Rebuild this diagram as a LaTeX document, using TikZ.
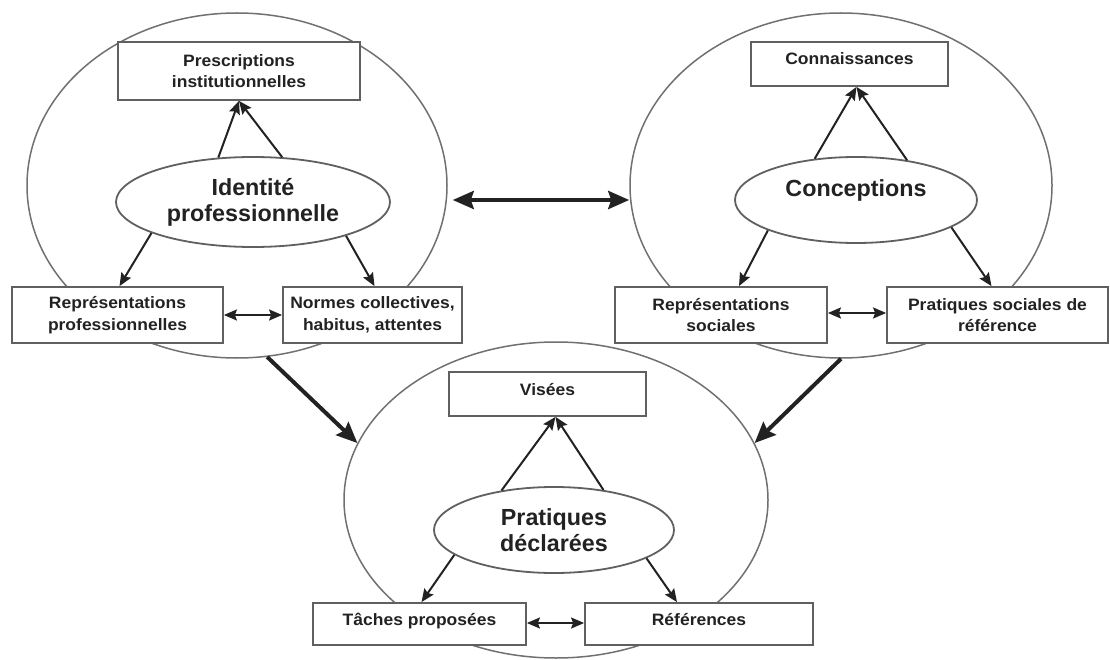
\documentclass[tikz,border=0pt]{standalone}
\usepackage{fontspec}
\setmainfont{Liberation Sans}
\newfontfamily\boxfont{Liberation Sans}[FakeStretch=1.06]
\usetikzlibrary{shapes.geometric,arrows.meta,calc}
\definecolor{ink}{HTML}{222222}
\definecolor{edgec}{HTML}{606060}
\definecolor{ring}{HTML}{707070}
\tikzset{
  bigring/.style={ellipse, draw=ring, line width=1.5pt, inner sep=0pt},
  boxn/.style={draw=edgec, line width=1.8pt, fill=white, inner sep=0pt, align=center,
     font=\boxfont\bfseries\fontsize{16.5}{21.5}\selectfont, text=ink},
  upper/.style={text height=12pt, text depth=10pt},
  innerell/.style={ellipse, draw=edgec, line width=1.8pt, fill=white, inner sep=0pt, align=center,
     font=\bfseries\fontsize{23.3}{26}\selectfont, text=ink},
  thin tip/.style={Stealth[length=13pt,width=11pt,inset=2pt]},
  fat tip/.style={Stealth[length=21pt,width=18pt,inset=3pt]},
  arr/.style={draw=ink, line width=2pt, -{Stealth[length=13pt,width=11pt,inset=2pt]}},
  darr/.style={draw=ink, line width=2pt, {Stealth[length=13pt,width=11pt,inset=2pt]}-{Stealth[length=13pt,width=11pt,inset=2pt]}},
  fat/.style={draw=ink, line width=4pt, -{Stealth[length=21pt,width=18pt,inset=3pt]}},
  fatd/.style={draw=ink, line width=4pt, {Stealth[length=21pt,width=18pt,inset=3pt]}-{Stealth[length=21pt,width=18pt,inset=3pt]}}
}
\begin{document}
\begin{tikzpicture}[x=1pt,y=-1pt]
\useasboundingbox (0,0) rectangle (1110,660);
% big rings
\node[bigring, minimum width=420pt, minimum height=345pt] (bigL) at (237,185.5) {};
\node[bigring, minimum width=422pt, minimum height=345pt] (bigR) at (841,185.5) {};
\node[bigring, minimum width=424pt, minimum height=316pt] (bigB) at (556,500) {};
% left group
\node[boxn, minimum width=242pt, minimum height=58pt] (presc) at (239,71) {Prescriptions\\institutionnelles};
\node[boxn, minimum width=211pt, minimum height=56pt] (repp) at (117.5,315) {Représentations\\professionnelles};
\node[boxn, minimum width=179pt, minimum height=56pt] (normes) at (372.5,315) {Normes collectives,\\habitus, attentes};
\node[innerell, minimum width=274pt, minimum height=90pt] (ident) at (253,202) {Identité\\professionnelle};
% right group
\node[boxn, upper, minimum width=197pt, minimum height=44pt] (conn) at (849.5,64) {Connaissances};
\node[boxn, minimum width=212pt, minimum height=56pt] (reps) at (721,315) {Représentations\\sociales};
\node[boxn, minimum width=221pt, minimum height=56pt] (prat) at (997.5,315) {Pratiques sociales de\\référence};
\node[innerell, text height=17pt, text depth=24pt, minimum width=242pt, minimum height=86pt] (conc) at (856,200) {Conceptions};
% bottom group
\node[boxn, upper, minimum width=197pt, minimum height=44pt] (vis) at (547.5,394) {Visées};
\node[boxn, upper, minimum width=213pt, minimum height=42pt] (taches) at (419.5,624) {Tâches proposées};
\node[boxn, upper, minimum width=228pt, minimum height=42pt] (refs) at (699,624) {Références};
\node[innerell, minimum width=240pt, minimum height=86pt] (pdecl) at (554,530) {Pratiques\\déclarées};
% left arrows
\draw[arr] (ident.128) -- (presc.south);
\draw[arr] (ident.57) -- (presc.south);
\draw[arr] (ident.197) -- ([xshift=2pt]repp.north);
\draw[arr] (ident.340) -- ([xshift=2pt]normes.north);
\draw[darr] (repp.east) -- (normes.west);
% right arrows
\draw[arr] (conc.135) -- ([xshift=7pt]conn.south);
\draw[arr] (conc.38) -- ([xshift=7pt]conn.south);
\draw[arr] (conc.199) -- ([xshift=18pt]reps.north);
\draw[arr] (conc.344) -- ([xshift=-6pt]prat.north);
\draw[darr] ([yshift=2pt]reps.east) -- ([yshift=2pt]prat.west);
% bottom arrows
\draw[arr] (pdecl.143) -- ([xshift=8pt]vis.south);
\draw[arr] (pdecl.39) -- ([xshift=8pt]vis.south);
\draw[arr] (pdecl.194) -- ([xshift=2pt]taches.north);
\draw[arr] (pdecl.343) -- ([xshift=-22pt]refs.north);
\draw[darr] ([yshift=1pt]taches.east) -- ([yshift=1pt]refs.west);
% thick arrows
\draw[fatd, shorten <=5pt] ([yshift=-14.5pt]bigL.east) -- ([yshift=-14.5pt]bigR.west);
\draw[fat] (bigL.280) -- (bigB.164);
\draw[fat] (bigR.270) -- (bigB.16);
\end{tikzpicture}
\end{document}
